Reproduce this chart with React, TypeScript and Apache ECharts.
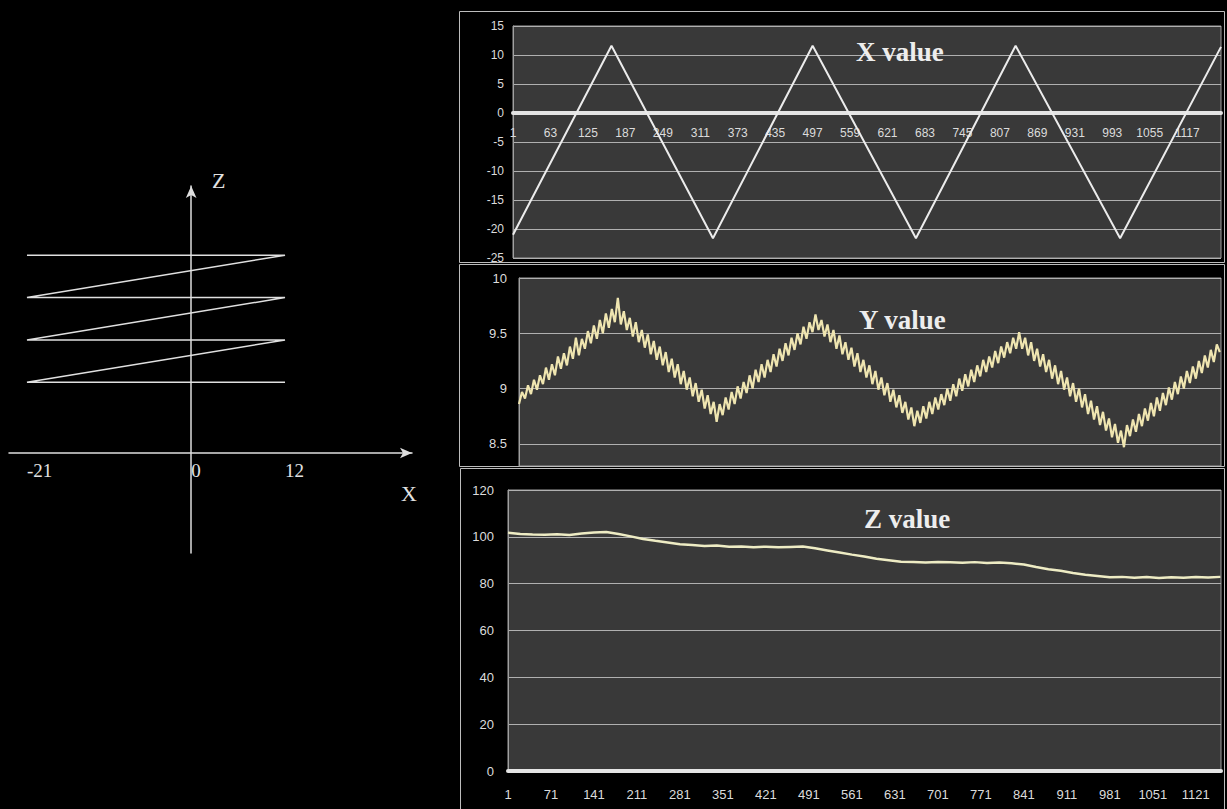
import React, { useEffect, useRef } from 'react';
import * as echarts from 'echarts';

// ---- left schematic ----
const DIAGRAM_X_TICKS = [-21, 0, 12];
const ZIGZAG_X = [12, -21, 12, -21, 12, -21, 12, -21];
const ZIGZAG_Z = [5, 5, 8, 8, 11, 11, 14, 14];

// ---- X value panel ----
const X_TICKS = [1, 63, 125, 187, 249, 311, 373, 435, 497, 559, 621, 683, 745, 807, 869, 931, 993, 1055, 1117];
const X_IDX = [1, 164, 332, 497, 668, 833, 1006, 1173];
const X_VAL = [-21.0, 11.6, -21.6, 11.6, -21.6, 11.6, -21.6, 11.4];

// ---- Y value panel ----
const Y_TICKS = [8.5, 9, 9.5, 10];
const Y_START = 1;
const Y_STEP = 5;
const Y_VAL = [
  // 1 .. 166
  8.86, 8.97, 8.91, 9.03, 8.95, 9.08, 8.99, 9.12, 9.04, 9.19, 9.08, 9.22, 9.12, 9.29, 9.18, 9.32, 9.21,
  9.38, 9.27, 9.46, 9.30, 9.45, 9.36, 9.52, 9.41, 9.57, 9.45, 9.62, 9.50, 9.68, 9.55, 9.72, 9.60, 9.82,
  // 171 .. 331
  9.58, 9.70, 9.53, 9.64, 9.47, 9.60, 9.42, 9.53, 9.37, 9.49, 9.31, 9.43, 9.26, 9.38, 9.21, 9.33, 9.15,
  9.27, 9.10, 9.22, 9.04, 9.16, 8.99, 9.10, 8.93, 9.05, 8.88, 8.99, 8.82, 8.94, 8.77, 8.88, 8.70,
  // 336 .. 496
  8.86, 8.76, 8.92, 8.81, 8.97, 8.86, 9.02, 8.91, 9.06, 8.96, 9.12, 9.00, 9.17, 9.06, 9.22, 9.10, 9.26,
  9.15, 9.31, 9.20, 9.36, 9.25, 9.41, 9.30, 9.46, 9.35, 9.50, 9.40, 9.56, 9.45, 9.60, 9.51, 9.67,
  // 501 .. 666
  9.53, 9.62, 9.47, 9.58, 9.42, 9.53, 9.36, 9.48, 9.31, 9.42, 9.26, 9.37, 9.20, 9.32, 9.15, 9.26, 9.10,
  9.21, 9.04, 9.16, 8.99, 9.10, 8.94, 9.05, 8.88, 8.99, 8.83, 8.94, 8.78, 8.88, 8.72, 8.83, 8.66, 8.80,
  // 671 .. 836
  8.69, 8.84, 8.73, 8.88, 8.77, 8.92, 8.81, 8.95, 8.85, 9.00, 8.89, 9.04, 8.93, 9.09, 8.98, 9.13, 9.02,
  9.17, 9.06, 9.21, 9.11, 9.26, 9.15, 9.29, 9.19, 9.34, 9.23, 9.38, 9.28, 9.42, 9.32, 9.46, 9.36, 9.51,
  // 841 .. 1006
  9.36, 9.46, 9.30, 9.42, 9.25, 9.36, 9.20, 9.31, 9.15, 9.26, 9.09, 9.21, 9.04, 9.16, 8.99, 9.10, 8.93,
  9.05, 8.88, 9.00, 8.83, 8.95, 8.77, 8.89, 8.72, 8.84, 8.67, 8.79, 8.62, 8.73, 8.56, 8.68, 8.51, 8.62,
  // 1011 .. 1171
  8.47, 8.67, 8.57, 8.72, 8.61, 8.77, 8.66, 8.82, 8.71, 8.87, 8.75, 8.92, 8.80, 8.96, 8.85, 9.01, 8.90,
  9.06, 8.95, 9.11, 9.00, 9.16, 9.05, 9.20, 9.09, 9.25, 9.14, 9.30, 9.19, 9.35, 9.24, 9.40, 9.33,
];

// ---- Z value panel ----
const Z_X_TICKS = [1, 71, 141, 211, 281, 351, 421, 491, 561, 631, 701, 771, 841, 911, 981, 1051, 1121];
const Z_START = 1;
const Z_STEP = 20;
const Z_VAL = [
  101.8, 101.2, 101.0, 100.9, 101.1, 100.8, 101.4, 101.9, 102.1, 101.2,
  100.2, 99.1, 98.3, 97.6, 96.8, 96.5, 96.1, 96.3, 95.8, 95.9,
  95.6, 95.8, 95.5, 95.7, 95.9, 95.1, 94.2, 93.3, 92.4, 91.6,
  90.6, 90.0, 89.4, 89.2, 89.0, 89.3, 89.1, 88.9, 89.2, 88.8,
  89.0, 88.7, 88.2, 87.1, 86.2, 85.5, 84.6, 83.8, 83.3, 82.7,
  82.9, 82.5, 82.8, 82.4, 82.7, 82.5, 82.8, 82.6, 82.9,
];

const LABEL = '#dcdcdc';
const GRID_LINE = '#b0b0b0';
const PLOT_BG = '#393939';
const SANS = 'Liberation Sans, Arial, sans-serif';
const SERIF = 'Liberation Serif, Times New Roman, serif';

function buildOption(): any {
  const zig = ZIGZAG_X.map((x, i) => [x, ZIGZAG_Z[i]]);
  const xData = X_IDX.map((x, i) => [x, X_VAL[i]]);
  const yData = Y_VAL.map((v, i) => [Y_START + i * Y_STEP, v]);
  const zData = Z_VAL.map((v, i) => [Z_START + i * Z_STEP, v]);
  const plain = (v: number) => String(v);

  const plotGrid = (left: number, top: number, width: number, height: number) => ({
    left, top, width, height, show: true, backgroundColor: PLOT_BG, borderColor: '#9c9c9c', borderWidth: 1,
    outerBoundsMode: 'none', containLabel: false,
  });

  const titleStyle = { fontFamily: SERIF, fontSize: 27, fontWeight: 'bold', color: '#ededed' };

  return {
    animation: false,
    backgroundColor: '#000',
    title: [
      { text: 'X value', left: 856, top: 38, textStyle: titleStyle, padding: 0 },
      { text: 'Y value', left: 859, top: 306, textStyle: titleStyle, padding: 0 },
      { text: 'Z value', left: 864, top: 505, textStyle: titleStyle, padding: 0 },
    ],
    grid: [
      { left: 9, top: 186, width: 403, height: 367, show: false, outerBoundsMode: 'none', containLabel: false },
      plotGrid(513, 26, 708, 232),
      plotGrid(519, 278, 702, 188),
      plotGrid(508, 490, 713, 281),
    ],
    xAxis: [
      {
        type: 'value', gridIndex: 0, min: -23.3, max: 28.24,
        axisLine: { show: true, onZero: true, symbol: ['none', 'arrow'], symbolSize: [8, 12], lineStyle: { color: '#dedede', width: 1.5 } },
        axisTick: { show: false, customValues: DIAGRAM_X_TICKS },
        axisLabel: { customValues: DIAGRAM_X_TICKS, formatter: plain, align: 'left', margin: -92, color: '#e2e2e2', fontFamily: SERIF, fontSize: 19 },
        splitLine: { show: false },
      },
      {
        type: 'value', gridIndex: 1, min: 1, max: 1173,
        axisLine: { show: true, onZero: true, lineStyle: { color: '#e4e4e4', width: 4 } },
        axisTick: { show: false, customValues: X_TICKS },
        axisLabel: { customValues: X_TICKS, formatter: plain, margin: -131, color: LABEL, fontFamily: SANS, fontSize: 12 },
        splitLine: { show: false },
      },
      { type: 'value', gridIndex: 2, min: 1, max: 1173, show: false },
      {
        type: 'value', gridIndex: 3, min: 1, max: 1162,
        axisLine: { show: true, onZero: true, lineStyle: { color: '#e4e4e4', width: 4 } },
        axisTick: { show: false, customValues: Z_X_TICKS },
        axisLabel: { customValues: Z_X_TICKS, formatter: plain, margin: 17, color: LABEL, fontFamily: SANS, fontSize: 13 },
        splitLine: { show: false },
      },
    ],
    yAxis: [
      {
        type: 'value', gridIndex: 0, min: -7.08, max: 18.9,
        axisLine: { show: true, onZero: true, symbol: ['none', 'arrow'], symbolSize: [8, 12], lineStyle: { color: '#dedede', width: 1.5 } },
        axisTick: { show: false }, axisLabel: { show: false }, splitLine: { show: false },
      },
      {
        type: 'value', gridIndex: 1, min: -25, max: 15, interval: 5,
        axisLine: { show: true, onZero: false, lineStyle: { color: '#a0a0a0', width: 1 } },
        axisTick: { show: false },
        axisLabel: { margin: 9, color: LABEL, fontFamily: SANS, fontSize: 12 },
        splitLine: { show: true, lineStyle: { color: GRID_LINE, width: 1 } },
      },
      {
        type: 'value', gridIndex: 2, min: 8.3, max: 10,
        axisLine: { show: true, onZero: false, lineStyle: { color: '#a0a0a0', width: 1 } },
        axisTick: { show: false, customValues: Y_TICKS },
        axisLabel: { customValues: Y_TICKS, margin: 12, color: LABEL, fontFamily: SANS, fontSize: 13 },
        splitLine: { show: true, lineStyle: { color: GRID_LINE, width: 1 } },
      },
      {
        type: 'value', gridIndex: 3, min: 0, max: 120, interval: 20,
        axisLine: { show: true, onZero: false, lineStyle: { color: '#a0a0a0', width: 1 } },
        axisTick: { show: false },
        axisLabel: { margin: 14, color: LABEL, fontFamily: SANS, fontSize: 13 },
        splitLine: { show: true, lineStyle: { color: GRID_LINE, width: 1 } },
      },
    ],
    graphic: [
      { type: 'rect', shape: { x: 459.5, y: 11.5, width: 765, height: 251 }, style: { fill: 'none', stroke: '#bdbdbd', lineWidth: 1 }, silent: true },
      { type: 'rect', shape: { x: 459.5, y: 264.5, width: 765, height: 202 }, style: { fill: 'none', stroke: '#bdbdbd', lineWidth: 1 }, silent: true },
      { type: 'rect', shape: { x: 460.5, y: 468.5, width: 764, height: 345 }, style: { fill: 'none', stroke: '#bdbdbd', lineWidth: 1 }, silent: true },
      { type: 'text', left: 212, top: 169, style: { text: 'Z', fill: '#e2e2e2', font: `22px ${SERIF}` }, silent: true },
      { type: 'text', left: 401, top: 482, style: { text: 'X', fill: '#e2e2e2', font: `22px ${SERIF}` }, silent: true },
    ],
    series: [
      { type: 'line', xAxisIndex: 0, yAxisIndex: 0, data: zig, symbol: 'none', silent: true, lineStyle: { color: '#e0e0e0', width: 1.5 } },
      { type: 'line', xAxisIndex: 1, yAxisIndex: 1, data: xData, symbol: 'none', silent: true, lineStyle: { color: '#ececec', width: 2 } },
      { type: 'line', xAxisIndex: 2, yAxisIndex: 2, data: yData, symbol: 'none', silent: true, lineStyle: { color: '#efe5b0', width: 2.2 } },
      { type: 'line', xAxisIndex: 3, yAxisIndex: 3, data: zData, symbol: 'none', silent: true, lineStyle: { color: '#eeecc4', width: 2.5 } },
    ],
  };
}

export default function App() {
  const ref = useRef<HTMLDivElement>(null);
  useEffect(() => {
    if (!ref.current) return;
    const chart = echarts.init(ref.current, null, { renderer: 'svg' });
    chart.setOption(buildOption());
    return () => chart.dispose();
  }, []);
  return (
    <div
      ref={ref}
      style={{ position: 'fixed', left: 0, top: 0, width: 1227, height: 809, background: '#000' }}
    />
  );
}
